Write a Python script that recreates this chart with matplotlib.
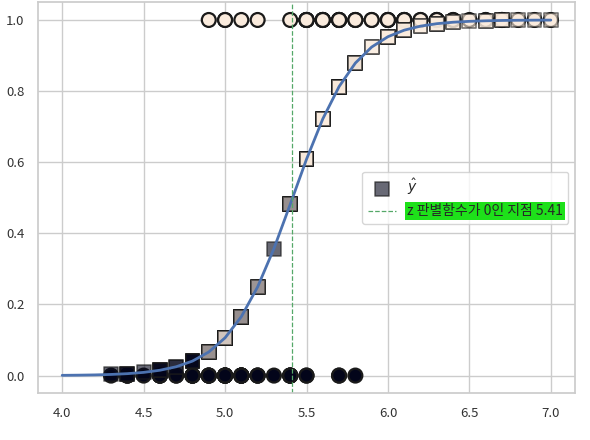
import numpy as np
import matplotlib
matplotlib.use('Agg')
import matplotlib.pyplot as plt
import seaborn as sns

sns.set(style='whitegrid', color_codes=True)
plt.rcParams['font.family'] = ['Noto Sans CJK KR', 'DejaVu Sans']
plt.rcParams['axes.unicode_minus'] = False

# iris sepal length: setosa (y=0) then versicolor (y=1)
x_setosa = [5.1, 4.9, 4.7, 4.6, 5.0, 5.4, 4.6, 5.0, 4.4, 4.9, 5.4, 4.8, 4.8, 4.3, 5.8, 5.7, 5.4,
            5.1, 5.7, 5.1, 5.4, 5.1, 4.6, 5.1, 4.8, 5.0, 5.0, 5.2, 5.2, 4.7, 4.8, 5.4, 5.2, 5.5,
            4.9, 5.0, 5.5, 4.9, 4.4, 5.1, 5.0, 4.5, 4.4, 5.0, 5.1, 4.8, 5.1, 4.6, 5.3, 5.0]
x_versicolor = [7.0, 6.4, 6.9, 5.5, 6.5, 5.7, 6.3, 4.9, 6.6, 5.2, 5.0, 5.9, 6.0, 6.1, 5.6, 6.7,
                5.6, 5.8, 6.2, 5.6, 5.9, 6.1, 6.3, 6.1, 6.4, 6.6, 6.8, 6.7, 6.0, 5.7, 5.5, 5.5,
                5.8, 6.0, 5.4, 6.0, 6.7, 6.3, 5.6, 5.5, 5.5, 6.1, 5.8, 5.0, 5.6, 5.7, 5.7, 6.2,
                5.1, 5.7]

# predicted probability curve, read at 0.1 steps from 4.0 to 7.0
curve_x = [4.0, 4.1, 4.2, 4.3, 4.4, 4.5, 4.6, 4.7, 4.8, 4.9, 5.0, 5.1, 5.2, 5.3, 5.4, 5.5,
           5.6, 5.7, 5.8, 5.9, 6.0, 6.1, 6.2, 6.3, 6.4, 6.5, 6.6, 6.7, 6.8, 6.9, 7.0]
curve_p = [0.0007, 0.0012, 0.0019, 0.0032, 0.0054, 0.0090, 0.0150, 0.0248, 0.0408, 0.0663,
           0.1062, 0.1658, 0.2494, 0.3571, 0.4815, 0.6083, 0.7219, 0.8127, 0.8789, 0.9239,
           0.9530, 0.9714, 0.9827, 0.9896, 0.9937, 0.9962, 0.9977, 0.9987, 0.9992, 0.9995,
           0.9997]
z_zero = 5.41

X0 = np.array(x_setosa + x_versicolor)
y = np.array([0] * len(x_setosa) + [1] * len(x_versicolor))
lookup = dict(zip(np.round(curve_x, 1), curve_p))
y_hat = np.array([lookup[round(v, 1)] for v in X0])

fig = plt.figure(figsize=(5.9, 4.4), dpi=100)
ax = fig.add_axes([0.064, 0.106, 0.911, 0.889])

cmap = sns.color_palette('rocket', as_cmap=True)
ax.scatter(X0, y, c=y, s=100, edgecolor='.1', lw=1.6, cmap=cmap)
ax.scatter(X0, y_hat, label=r'$\hat{y}$', marker='s', c=y, s=100, edgecolor='k', lw=1.2,
           alpha=0.6, cmap=cmap)
ax.plot(curve_x, curve_p, lw=2, color='#4c72b0')
ax.axvline(z_zero, c='g', ls='--', lw=0.9, label='z 판별함수가 0인 지점 %.2f' % z_zero)

ax.tick_params(labelsize=9.5, colors='.2')
leg = ax.legend(loc='center right', fontsize=10)
leg.get_texts()[1].set_bbox(dict(facecolor='#1ee01a', edgecolor='none', pad=1.5))

fig.savefig('out.png', dpi=100)
